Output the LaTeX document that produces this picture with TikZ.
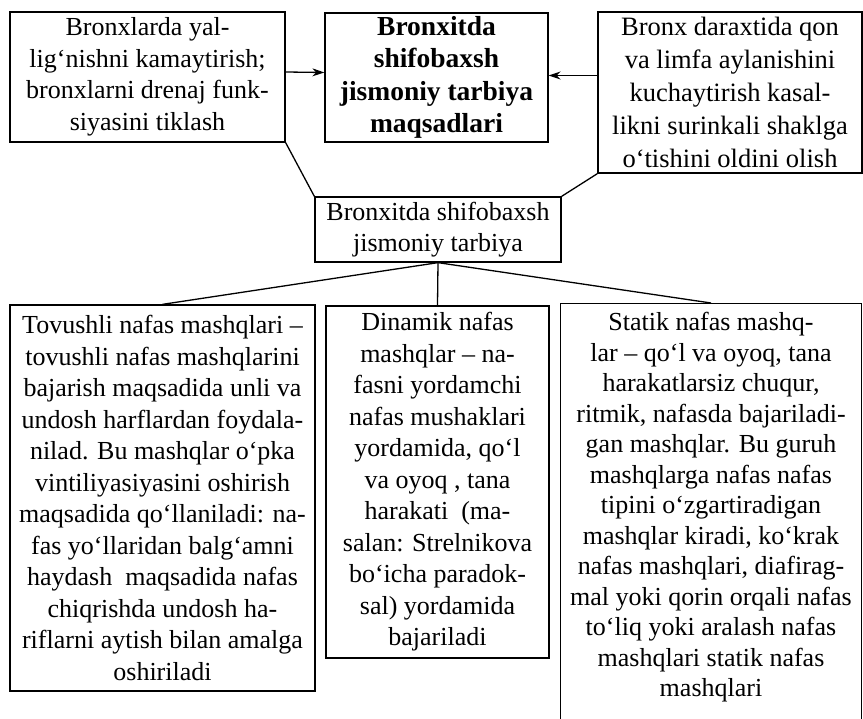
\documentclass[tikz,border=0pt]{standalone}
\usepackage{fontspec}
\setmainfont{Liberation Serif}
\usepackage{tikz}
\usetikzlibrary{arrows.meta}

\begin{document}
\begin{tikzpicture}[x=1pt, y=-1pt,
    box/.style={draw, line width=1.3pt, align=center, inner sep=3pt,
        font=\fontsize{26}{31.5}\selectfont},
    arr/.style={-{Stealth[length=12pt, width=8pt]}, line width=1.3pt},
    link/.style={line width=1.3pt}]
                \useasboundingbox[fill=white] (0,0) rectangle (863,719);
                % top row
                \node[box, minimum width=223pt, minimum height=129pt, font=\fontsize{27.5}{32.5}\selectfont\bfseries] (goal) at (436.5,77.5)
                    {Bronxitda\\shifobaxsh\\jismoniy tarbiya\\maqsadlari};
                \node[box, minimum width=275pt, minimum height=130pt] (aim1) at (147.5,77)
                    {Bronxlarda yal-\\lig‘nishni kamaytirish;\\bronxlarni drenaj funk-\\siyasini tiklash};
                \node[box, minimum width=264pt, minimum height=161pt, font=\fontsize{26.5}{33}\selectfont] (aim2) at (730,92.5)
                    {Bronx daraxtida qon\\va limfa aylanishini\\kuchaytirish kasal-\\likni surinkali shaklga\\o‘tishini oldini olish};
                \draw[arr] ([yshift=5pt]aim1.east) -- ([yshift=5pt]goal.west);
                \draw[arr] ([yshift=2pt]aim2.west |- goal.west) -- ([yshift=2pt]goal.east);
                % middle
                \node[box, minimum width=246pt, minimum height=65pt] (mid) at (438,229.5)
                    {Bronxitda shifobaxsh\\jismoniy tarbiya};
                \draw[link] (aim1.south east) -- (mid.north west);
                \draw[link] (aim2.south west) -- (mid.north east);
                % bottom row
                \node[box, minimum width=305pt, minimum height=386pt] (ex1) at (162.5,498)
                    {Tovushli nafas mashqlari --\\tovushli nafas mashqlarini\\bajarish maqsadida unli va\\undosh harflardan foydala-\\nilad. Bu mashqlar o‘pka\\vintiliyasiyasini oshirish\\maqsadida qo‘llaniladi: na-\\fas yo‘llaridan balg‘amni\\haydash\ \ maqsadida nafas\\chiqrishda undosh ha-\\riflarni aytish bilan amalga\\oshiriladi};
                \node[box, minimum width=223pt, minimum height=352pt] (ex2) at (437.5,482)
                    {Dinamik nafas\\mashqlar -- na-\\fasni yordamchi\\nafas mushaklari\\yordamida, qo‘l\\va oyoq , tana\\harakati\ \ (ma-\\salan: Strelnikova\\bo‘icha paradok-\\sal) yordamida\\bajariladi};
                \node[box, minimum width=301pt, anchor=north, inner ysep=9pt, text depth=30pt, font=\fontsize{26}{30.5}\selectfont] (ex3) at (711,303)
                    {Statik nafas mashq-\\lar -- qo‘l va oyoq, tana\\harakatlarsiz chuqur,\\ritmik, nafasda bajariladi-\\gan mashqlar. Bu guruh\\mashqlarga nafas nafas\\tipini o‘zgartiradigan\\mashqlar kiradi, ko‘krak\\nafas mashqlari, diafirag-\\mal yoki qorin orqali nafas\\to‘liq yoki aralash nafas\\mashqlari statik nafas\\mashqlari};
                \draw[link] (mid.south) -- (ex1.north);
                \draw[link] (mid.south) -- (ex2.north);
                \draw[link] (mid.south) -- (ex3.north);
            \end{tikzpicture}
\end{document}
